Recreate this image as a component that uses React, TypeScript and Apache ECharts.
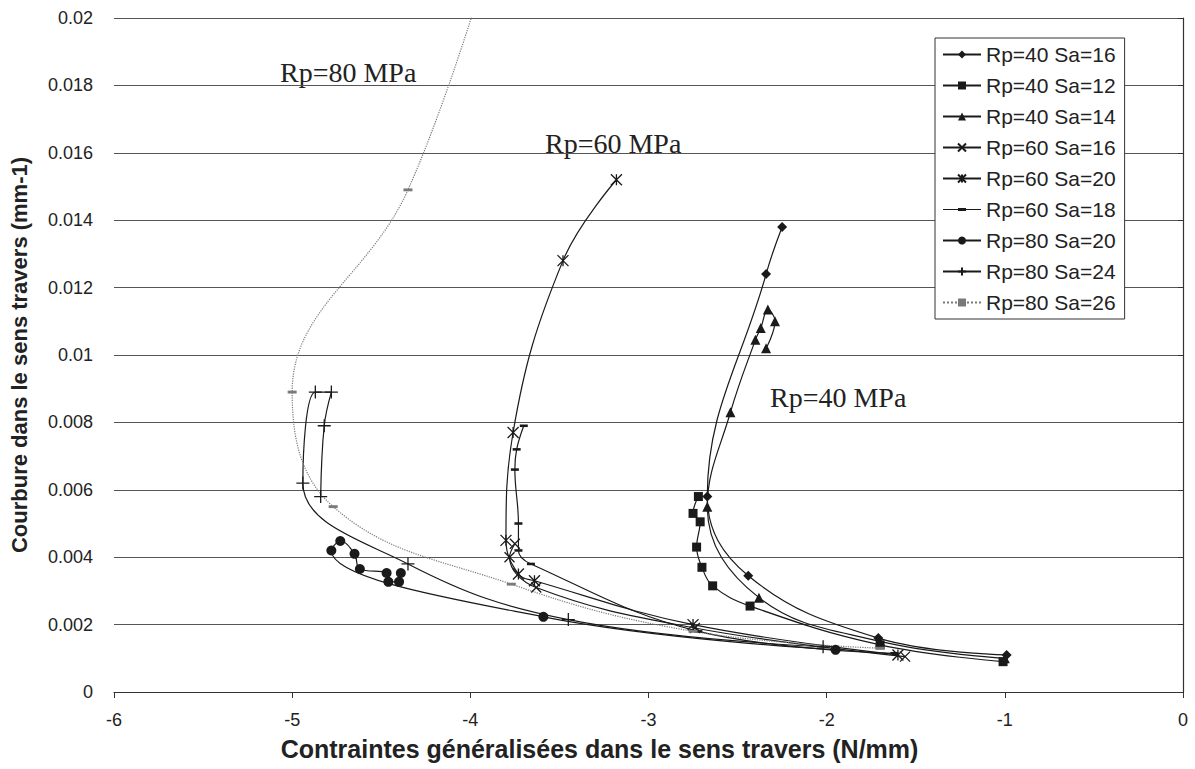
import React, { useEffect, useRef } from "react";
import * as echarts from "echarts";

// ---- Data (x: Contraintes N/mm, y: Courbure mm-1) ----
const rp40sa16: [number, number][] = [
  [-0.99, 0.0011], [-1.71, 0.0016], [-2.44, 0.00345], [-2.67, 0.0058], [-2.34, 0.0124], [-2.25, 0.0138],
];
const rp40sa12: [number, number][] = [
  [-1.01, 0.0009], [-1.7, 0.0014], [-2.43, 0.00255], [-2.64, 0.00315], [-2.7, 0.0037], [-2.73, 0.0043],
  [-2.71, 0.00505], [-2.75, 0.0053], [-2.72, 0.0058],
];
const rp40sa14: [number, number][] = [
  [-1.0, 0.001], [-1.7, 0.0015], [-2.38, 0.0028], [-2.67, 0.0055], [-2.54, 0.0083], [-2.4, 0.01045],
  [-2.37, 0.0108], [-2.33, 0.01135], [-2.29, 0.011], [-2.34, 0.0102],
];
const rp60sa16: [number, number][] = [
  [-1.56, 0.00105], [-2.74, 0.0019], [-3.63, 0.0031], [-3.78, 0.004], [-3.75, 0.0044],
];
const rp60sa20: [number, number][] = [
  [-1.6, 0.0011], [-2.75, 0.002], [-3.64, 0.0033], [-3.73, 0.0035], [-3.8, 0.0045], [-3.76, 0.0077],
  [-3.48, 0.0128], [-3.18, 0.0152],
];
const rp60sa18: [number, number][] = [
  [-1.62, 0.00115], [-2.72, 0.0018], [-3.66, 0.0038], [-3.73, 0.0042], [-3.73, 0.005], [-3.75, 0.0066],
  [-3.74, 0.0072], [-3.7, 0.0079],
];
const rp80sa20: [number, number][] = [
  [-1.95, 0.00125], [-3.59, 0.00223], [-4.78, 0.0042], [-4.73, 0.00448], [-4.65, 0.0041], [-4.62, 0.00365],
  [-4.47, 0.00353], [-4.46, 0.00327], [-4.4, 0.00327], [-4.39, 0.00353],
];
const rp80sa24: [number, number][] = [
  [-2.02, 0.00134], [-3.45, 0.00215], [-4.35, 0.0038], [-4.94, 0.0062], [-4.87, 0.0089], [-4.78, 0.0089],
  [-4.82, 0.0079], [-4.84, 0.0058],
];
const rp80sa26: [number, number][] = [
  [-1.7, 0.0013], [-2.75, 0.0018], [-3.77, 0.0032], [-4.77, 0.0055], [-5.0, 0.0089], [-4.35, 0.0149],
  [-3.85, 0.0225],
];

const seriesNames = [
  "Rp=40 Sa=16", "Rp=40 Sa=12", "Rp=40 Sa=14", "Rp=60 Sa=16", "Rp=60 Sa=20",
  "Rp=60 Sa=18", "Rp=80 Sa=20", "Rp=80 Sa=24", "Rp=80 Sa=26",
];
const xTicks = { min: -6, max: 0, interval: 1 };
const yTicks = { min: 0, max: 0.02, interval: 0.002 };
const annotations = ["Rp=80 MPa", "Rp=60 MPa", "Rp=40 MPa"];

const CROSS = "path://M0,0L10,10M10,0L0,10";
const STAR = "path://M0,0L10,10M10,0L0,10M5,0L5,10";
const PLUS = "path://M5,0L5,10M0,5L10,5";
const DASH = "path://M0,0L10,0L10,3.2L0,3.2Z";
// legend icon: thin line with a small dash in the middle (box 38 x 10)
const DASH_LEGEND =
  "path://M0,0L38,0L38,0.01L0,0.01Z M0,4.4L38,4.4L38,5.6L0,5.6Z M15,3.4L23,3.4L23,6.6L15,6.6Z M0,9.99L38,9.99L38,10L0,10Z";

export default function App() {
  const ref = useRef<HTMLDivElement>(null);
  useEffect(() => {
    if (!ref.current) return;
    const chart = echarts.init(ref.current, null, { renderer: "svg" });
    const ink = "#1a1a1a";
    const mk = (
      name: string,
      data: [number, number][],
      symbol: string,
      symbolSize: any,
      stroke: boolean,
      color = ink,
      lineType: any = "solid"
    ) => ({
      name,
      type: "line",
      data,
      smooth: 0.4,
      symbol,
      symbolSize,
      symbolKeepAspect: true,
      showSymbol: true,
      clip: true,
      lineStyle: { color, width: 1.2, type: lineType },
      itemStyle: stroke
        ? { color: "rgba(0,0,0,0)", borderColor: color, borderWidth: 1.3 }
        : { color, borderWidth: 0 },
      emphasis: { disabled: true },
    });
    const series = [
      mk(seriesNames[0], rp40sa16, "diamond", 10, false),
      mk(seriesNames[1], rp40sa12, "rect", 9, false),
      mk(seriesNames[2], rp40sa14, "triangle", 10, false),
      mk(seriesNames[3], rp60sa16, CROSS, 10, true),
      mk(seriesNames[4], rp60sa20, STAR, 11, true),
      mk(seriesNames[5], rp60sa18, DASH, 8, false),
      mk(seriesNames[6], rp80sa20, "circle", 10, false),
      mk(seriesNames[7], rp80sa24, PLUS, 13, true),
      mk(seriesNames[8], rp80sa26, DASH, 9, false, "#7a7a7a", "dotted"),
    ];
    const legendData = seriesNames.map((n, i) =>
      i === 5 ? { name: n, icon: DASH_LEGEND } : { name: n }
    );
    chart.setOption({
      animation: false,
      backgroundColor: "#fff",
      textStyle: { fontFamily: "Liberation Sans, Arial, sans-serif" },
      grid: { left: 113, right: 12, top: 18, bottom: 77, containLabel: false },
      xAxis: {
        type: "value",
        min: xTicks.min,
        max: xTicks.max,
        interval: xTicks.interval,
        name: "Contraintes généralisées dans le sens travers (N/mm)",
        nameLocation: "middle",
        nameGap: 44,
        nameTextStyle: { fontSize: 25, fontWeight: "bold", color: "#222", padding: [0, 98, 0, 0] },
        axisLine: { onZero: false, lineStyle: { color: "#333", width: 1.2 } },
        axisTick: { show: true, length: 6, lineStyle: { color: "#333" } },
        axisLabel: { fontSize: 18, color: "#222", margin: 19 },
        splitLine: { show: false },
      },
      yAxis: {
        type: "value",
        min: yTicks.min,
        max: yTicks.max,
        interval: yTicks.interval,
        name: "Courbure dans le sens travers (mm-1)",
        nameLocation: "middle",
        nameGap: 84,
        nameTextStyle: { fontSize: 22, fontWeight: "bold", color: "#222" },
        axisLine: { show: true, lineStyle: { color: "#333", width: 1.2 } },
        axisTick: { show: true, length: 5, lineStyle: { color: "#333" } },
        axisLabel: { fontSize: 18, color: "#222", margin: 21 },
        splitLine: { show: true, lineStyle: { color: "#555", width: 1 } },
      },
      legend: {
        orient: "vertical",
        left: 935,
        top: 38,
        width: 192,
        backgroundColor: "#fff",
        borderColor: "#333",
        borderWidth: 1,
        padding: [6, 9, 6, 7],
        itemWidth: 38,
        itemHeight: 10,
        itemGap: 10,
        textStyle: { fontSize: 21, color: "#222", lineHeight: 20 },
        data: legendData,
      },
      graphic: [
        { type: "text", left: 280, top: 58, style: { text: annotations[0], font: "28px 'Liberation Serif', 'Times New Roman', serif", fill: "#222" } },
        { type: "text", left: 545, top: 129, style: { text: annotations[1], font: "28px 'Liberation Serif', 'Times New Roman', serif", fill: "#222" } },
        { type: "text", left: 770, top: 383, style: { text: annotations[2], font: "28px 'Liberation Serif', 'Times New Roman', serif", fill: "#222" } },
      ],
      series,
    });
    return () => chart.dispose();
  }, []);
  return (
    <div
      ref={ref}
      style={{ position: "absolute", left: 0, top: 0, width: 1195, height: 769 }}
    />
  );
}
